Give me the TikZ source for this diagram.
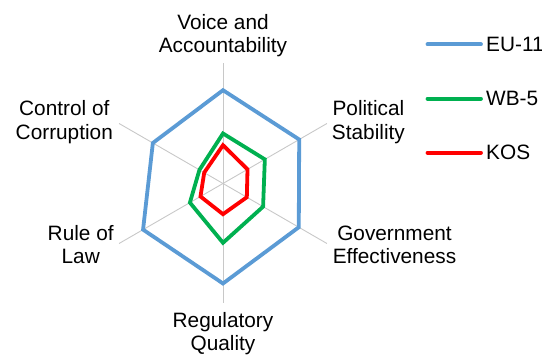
\documentclass[tikz,border=0pt]{standalone}
\usepackage{fontspec}
\setmainfont{Liberation Sans}
\definecolor{euBlue}{RGB}{91,155,213}
\definecolor{wbGreen}{RGB}{0,176,80}
\definecolor{kosRed}{RGB}{255,0,0}
\definecolor{axisGray}{RGB}{200,200,200}
\begin{document}
\begin{tikzpicture}[x=1pt,y=1pt,
  spoke/.style={draw=axisGray,line width=0.9pt},
  series/.style={line width=3.8pt,line join=miter},
  legline/.style={line width=3.8pt,line cap=round},
  axlabel/.style={align=center,inner sep=0pt,anchor=base,font=\fontsize{20.8}{23.3}\selectfont},
  legtext/.style={inner sep=0pt,anchor=west,font=\fontsize{20.8}{23.3}\selectfont}]
\useasboundingbox (0,0) rectangle (542,355);
\coordinate (c) at (223,171.5);
\begin{scope}[shift={(c)}]
  \coordinate (a1) at (90:120);
  \coordinate (a2) at (30:120);
  \coordinate (a3) at (-30:120);
  \coordinate (a4) at (-90:120);
  \coordinate (a5) at (210:120);
  \coordinate (a6) at (150:120);
  \foreach \i in {1,...,6} \draw[spoke] (0,0) -- (a\i);
  \draw[series,euBlue] (90:93.3) -- (30:88) -- (-30:87.5) -- (-90:100) -- (210:92.3) -- (150:81) -- cycle;
  \draw[series,wbGreen] (90:50) -- (30:48.3) -- (-30:46.3) -- (-90:59.3) -- (210:38.2) -- (150:27.2) -- cycle;
  \draw[series,kosRed] (90:38.3) -- (30:28.3) -- (-30:27.5) -- (-90:30.7) -- (210:26) -- (150:21.7) -- cycle;
\end{scope}
\node[axlabel] (lva) at (223,302.5) {Voice and\\Accountability};
\node[axlabel] (lps) at (368.4,215.7) {Political\\Stability};
\node[axlabel] (lge) at (394.5,91) {Government\\Effectiveness};
\node[axlabel] (lrq) at (223,4) {Regulatory\\Quality};
\node[axlabel] (lrl) at (80.7,91) {Rule of\\Law};
\node[axlabel] (lcc) at (64.3,215.7) {Control of\\Corruption};
\coordinate (e1) at (427.5,310.7);
\coordinate (e2) at (481,310.7);
\coordinate (g1) at (427.5,256.3);
\coordinate (g2) at (481,256.3);
\coordinate (k1) at (427.5,202.3);
\coordinate (k2) at (481,202.3);
\draw[legline,euBlue] (e1) -- (e2);
\draw[legline,wbGreen] (g1) -- (g2);
\draw[legline,kosRed] (k1) -- (k2);
\node[legtext] (teu) at (486,310.7) {EU-11};
\node[legtext] (twb) at (486,256.3) {WB-5};
\node[legtext] (tkos) at (486,202.3) {KOS};
\end{tikzpicture}
\end{document}
